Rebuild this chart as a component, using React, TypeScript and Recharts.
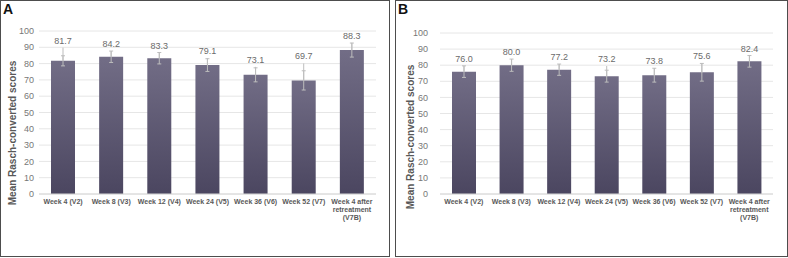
import { BarChart, Bar, XAxis, YAxis, CartesianGrid, ErrorBar, LabelList } from 'recharts'

const CATEGORIES = [
  'Week 4 (V2)', 'Week 8 (V3)', 'Week 12 (V4)', 'Week 24 (V5)',
  'Week 36 (V6)', 'Week 52 (V7)', 'Week 4 after retreatment (V7B)',
]
const Y_TICKS = [0, 10, 20, 30, 40, 50, 60, 70, 80, 90, 100]

// Panel A
const MEAN_A = [81.7, 84.2, 83.3, 79.1, 73.1, 69.7, 88.3]
const SD_A = [3.1, 3.5, 3.5, 3.9, 4.3, 5.9, 4.3]
const UPPER_A = [89.8, 87.7, 86.8, 83.3, 78.0, 80.1, 92.8]

// Panel B
const MEAN_B = [76.0, 80.0, 77.2, 73.2, 73.8, 75.6, 82.4]
const SD_B = [3.6, 3.8, 3.5, 3.7, 4.3, 5.5, 3.6]
const UPPER_B = [79.6, 83.8, 80.7, 79.5, 78.1, 81.1, 86.0]

const FONT = '"Liberation Sans", Arial, sans-serif'

function wrap(text: string, max = 12): string[] {
  const lines: string[] = []
  let cur = ''
  for (const w of text.split(' ')) {
    const next = cur ? cur + ' ' + w : w
    if (next.length > max && cur) {
      lines.push(cur)
      cur = w
    } else cur = next
  }
  if (cur) lines.push(cur)
  return lines
}

function CategoryTick({ x, y, payload }: any) {
  const lines = wrap(payload.value)
  return (
    <text x={x} y={y + 10} textAnchor="middle" fontSize={7} fontWeight="bold" fill="#595959" fontFamily={FONT}>
      {lines.map((l, i) => (
        <tspan key={i} x={x} dy={i === 0 ? 0 : 8}>{l}</tspan>
      ))}
    </text>
  )
}

interface PanelProps {
  id: string
  letter: string
  left: number
  width: number
  means: number[]
  sd: number[]
  upper: number[]
  margin: { top: number; right: number; bottom: number; left: number }
  tickGap: number
  labelX: number
  labelY: number
}

function Panel({ id, letter, left, width, means, sd, upper, margin, tickGap, labelX, labelY }: PanelProps) {
  const rows = CATEGORIES.map((c, i) => ({
    name: c,
    value: means[i],
    err: [sd[i], sd[i]],
    whisker: [0, Math.max(upper[i] - means[i], 0)],
  }))

  // value text sits just above the top of each whisker
  const renderValue = (p: any) => {
    const { x, y, width: w, height: h, index } = p
    const v = means[index]
    const k = h / v
    const top = y - (upper[index] - v) * k
    return (
      <text x={x + w / 2} y={top - 4} textAnchor="middle" fontSize={9} fill="#6b6b6b" fontFamily={FONT}>
        {v.toFixed(1)}
      </text>
    )
  }

  return (
    <>
      <div
        style={{
          position: 'absolute', left, top: 0, width, height: 257,
          border: '1.5px solid #4d4d4d', boxSizing: 'border-box',
        }}
      />
      <div
        style={{
          position: 'absolute', left: left + 3, top: 1, fontFamily: FONT,
          fontWeight: 'bold', fontSize: 14, color: '#111',
        }}
      >
        {letter}
      </div>
      <div style={{ position: 'absolute', left, top: 0 }}>
        <BarChart width={width} height={258} data={rows} margin={margin}>
          <defs>
            <linearGradient id={`fill-${id}`} x1="0" y1="0" x2="0" y2="1">
              <stop offset="0%" stopColor="#726d86" />
              <stop offset="100%" stopColor="#4b4660" />
            </linearGradient>
          </defs>
          <CartesianGrid vertical={false} stroke="#e6e6e6" strokeWidth={1} />
          <XAxis
            dataKey="name"
            interval={0}
            tickLine={false}
            tickSize={0}
            tickMargin={0}
            axisLine={{ stroke: '#d6d6d6' }}
            tick={<CategoryTick />}
          />
          <YAxis
            width={30}
            domain={[0, 100]}
            ticks={Y_TICKS}
            interval={0}
            axisLine={false}
            tickLine={false}
            tickSize={0}
            tickMargin={tickGap}
            tick={{ fontSize: 9, fill: '#777', fontFamily: FONT }}
            label={() => (
              <text
                x={labelX}
                y={labelY}
                transform={`rotate(-90 ${labelX} ${labelY})`}
                textAnchor="middle"
                dominantBaseline="central"
                fontSize={10}
                fontWeight="bold"
                fill="#595959"
                fontFamily={FONT}
              >
                Mean Rasch-converted scores
              </text>
            )}
          />
          <Bar dataKey="value" barSize={24} fill={`url(#fill-${id})`} isAnimationActive={false}>
            <ErrorBar dataKey="err" width={2} stroke="#bdbdbd" strokeWidth={1} isAnimationActive={false} />
            <ErrorBar dataKey="whisker" width={0} stroke="#bdbdbd" strokeWidth={1} isAnimationActive={false} />
            <LabelList dataKey="value" content={renderValue} />
          </Bar>
        </BarChart>
      </div>
    </>
  )
}

export default function App() {
  return (
    <div style={{ position: 'absolute', left: 0, top: 0, width: 788, height: 258, background: '#fff', overflow: 'hidden' }}>
      <Panel
        id="a" letter="A" left={0} width={390}
        means={MEAN_A} sd={SD_A} upper={UPPER_A}
        margin={{ top: 31, right: 14, bottom: 34, left: 9 }}
        tickGap={5} labelX={12.5} labelY={133}
      />
      <Panel
        id="b" letter="B" left={395} width={393}
        means={MEAN_B} sd={SD_B} upper={UPPER_B}
        margin={{ top: 33, right: 15, bottom: 34, left: 15 }}
        tickGap={12} labelX={15.7} labelY={137}
      />
    </div>
  )
}
